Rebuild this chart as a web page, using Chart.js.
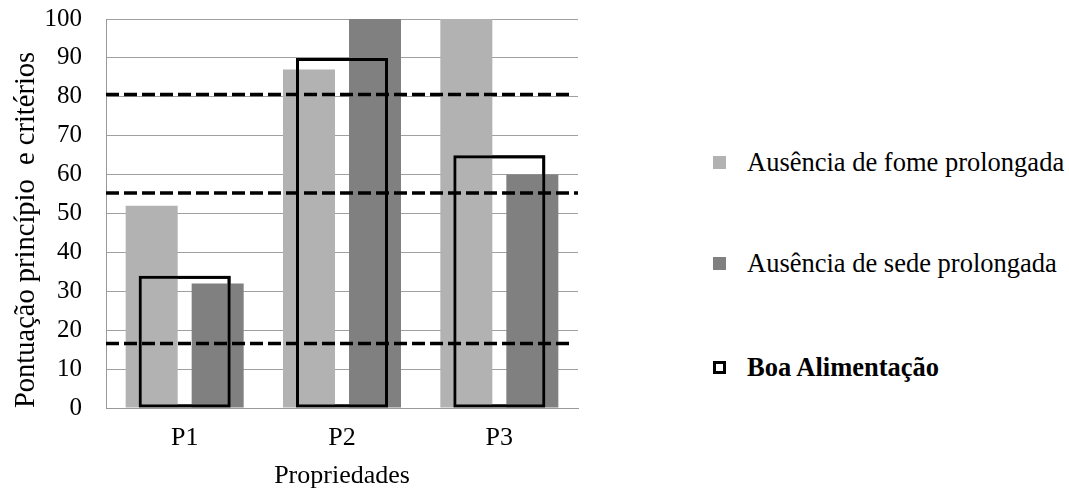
<!DOCTYPE html>
<html>
<head>
<meta charset="utf-8">
<script src="https://cdn.jsdelivr.net/npm/chart.js@4.4.1/dist/chart.umd.min.js"></script>
<style>
  html,body{margin:0;padding:0;background:#fff;}
  #wrap{position:relative;width:1069px;height:493px;}
  #c{position:absolute;left:0;top:0;}
  .leg{position:absolute;left:713px;height:30px;font-family:"Liberation Serif","Times New Roman",serif;font-size:26.5px;line-height:30px;color:#000;display:flex;align-items:center;white-space:nowrap;}
  .sw{width:13px;height:13px;margin-right:21px;box-sizing:border-box;flex:none;}
</style>
</head>
<body>
<div id="wrap">
  <canvas id="c" width="640" height="493"></canvas>
  <div class="leg" style="top:147px"><span class="sw" style="background:#b2b2b2"></span><span>Ausência de fome prolongada</span></div>
  <div class="leg" style="top:248px"><span class="sw" style="background:#808080"></span><span>Ausência de sede prolongada</span></div>
  <div class="leg" style="top:352px;font-weight:bold"><span class="sw" style="border:3px solid #000;background:#fff"></span><span>Boa Alimentação</span></div>
</div>
<script>
const categories = ["P1", "P2", "P3"];
const fome = [52, 87, 100];
const sede = [32, 100, 60];
const boaAlimentacao = [34, 90, 65];
const refLines = [80.6, 55.3, 16.6];
const refLineEnds = [2.96, 3.0, 2.97];
const yTicks = [0,10,20,30,40,50,60,70,80,90,100];

const serif = '"Liberation Serif","Times New Roman",serif';

// dashed reference lines, positioned through the chart's own y and x2 scales
const refLinePlugin = {
  id: 'refLines',
  afterDatasetsDraw(chart) {
    const {ctx, scales: {y, x2}} = chart;
    ctx.save();
    ctx.strokeStyle = '#000';
    ctx.lineWidth = 3.5;
    ctx.setLineDash([13, 5]);
    refLines.forEach((v, i) => {
      const py = y.getPixelForValue(v);
      ctx.beginPath();
      ctx.moveTo(x2.getPixelForValue(0), py);
      ctx.lineTo(x2.getPixelForValue(refLineEnds[i]), py);
      ctx.stroke();
    });
    ctx.restore();
    // redraw the outline boxes on top of the dashed lines
    const meta = chart.getDatasetMeta(2);
    meta.data.forEach(el => el.draw(ctx));
  }
};

new Chart(document.getElementById('c'), {
  type: 'bar',
  data: {
    labels: categories,
    datasets: [
      {label:'Ausência de fome prolongada', data: fome, backgroundColor:'#b2b2b2', categoryPercentage:0.839, barPercentage:0.788},
      {label:'Ausência de sede prolongada', data: sede, backgroundColor:'#808080', categoryPercentage:0.839, barPercentage:0.788},
      {label:'Boa Alimentação', data: boaAlimentacao, backgroundColor:'rgba(0,0,0,0)', borderColor:'#000', borderWidth:3, borderSkipped:false, grouped:false, categoryPercentage:1, barPercentage:0.585}
    ]
  },
  plugins: [refLinePlugin],
  options: {
    responsive: false,
    animation: false,
    events: [],
    layout: {padding: {top: 19, right: 62, left: 0, bottom: 0}},
    plugins: {legend: {display: false}, tooltip: {enabled: false}},
    scales: {
      x: {
        type: 'category',
        grid: {display: false, drawTicks: false},
        border: {color: '#999', width: 1},
        ticks: {font: {family: serif, size: 26}, color: '#000', padding: 15},
        title: {display: true, text: 'Propriedades', font: {family: serif, size: 26}, color: '#000', padding: {top: 4, bottom: 1}},
        afterFit: s => { s.height = 85; s.paddingLeft = 0; s.paddingRight = 0; }
      },
      x2: {type: 'linear', axis: 'x', min: 0, max: 3, offset: false, display: false},
      y: {
        min: 0, max: 100,
        afterBuildTicks: s => { s.ticks = yTicks.map(v => ({value: v})); },
        grid: {color: '#a0a0a0', lineWidth: 1, drawTicks: false},
        border: {color: '#999', width: 1},
        ticks: {font: {family: serif, size: 25}, color: '#000', padding: 24},
        title: {display: true, text: 'Pontuação princípio  e critérios', align: 'start', font: {family: serif, size: 28.5}, color: '#000', padding: {top: 9, bottom: 0}},
        afterFit: s => { s.width = 106; s.paddingTop = 0; s.paddingBottom = 0; }
      }
    }
  }
});
</script>
</body>
</html>
